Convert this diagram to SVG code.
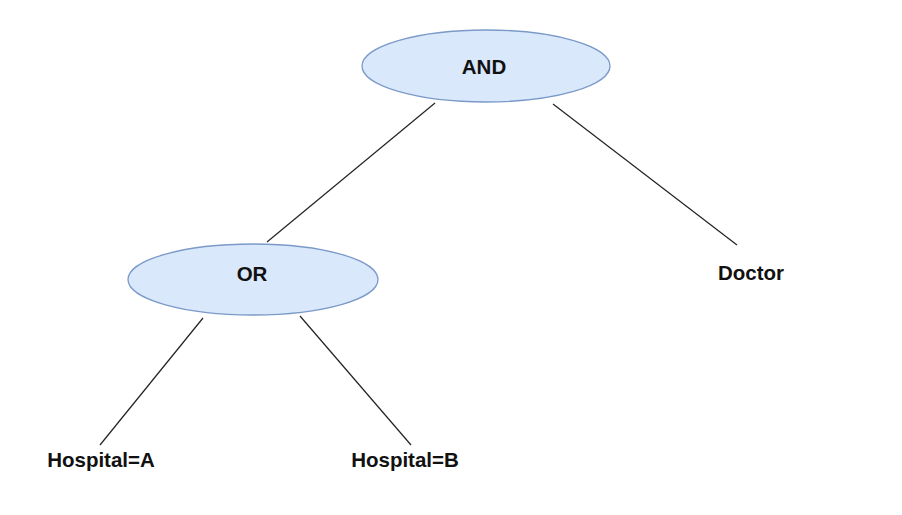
<svg xmlns="http://www.w3.org/2000/svg" width="902" height="515" viewBox="0 0 902 515">
<style>
.node{fill:#dae8fc;stroke:#7b9ac8;stroke-width:1.3}
.lbl{font-family:"Liberation Sans",Arial,sans-serif;font-weight:bold;font-size:20.5px;fill:#111;text-anchor:middle}
.edge{stroke:#222;stroke-width:1.2;fill:none}
</style>
<rect width="902" height="515" fill="#ffffff"/>
<g id="connectors">
<line class="edge" x1="435" y1="103" x2="267" y2="242"/>
<line class="edge" x1="553" y1="104" x2="737" y2="245"/>
<line class="edge" x1="203" y1="318" x2="100" y2="445"/>
<line class="edge" x1="300" y1="316" x2="411" y2="445"/>
</g>
<g id="and">
<ellipse class="node" cx="486" cy="66" rx="124" ry="36"/>
<text class="lbl" x="484" y="74">AND</text>
</g>
<g id="or">
<ellipse class="node" cx="253" cy="279.5" rx="125" ry="35.5"/>
<text class="lbl" x="252" y="281">OR</text>
</g>
<g id="doctor">
<text class="lbl" x="751" y="280">Doctor</text>
</g>
<g id="hospitalA">
<text class="lbl" x="101" y="467">Hospital=A</text>
</g>
<g id="hospitalB">
<text class="lbl" x="405" y="467">Hospital=B</text>
</g>
</svg>
